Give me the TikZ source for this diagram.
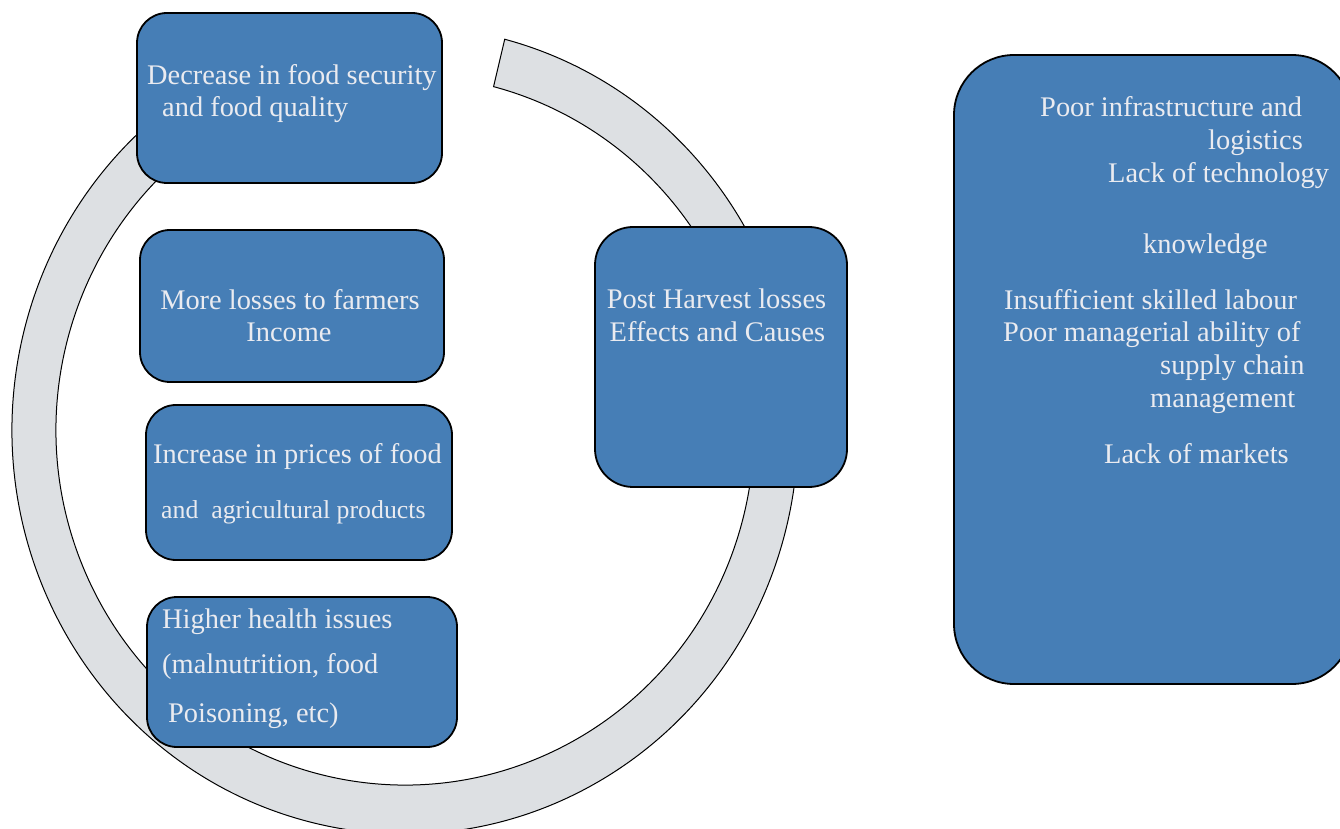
\documentclass[tikz,border=0pt]{standalone}
\usepackage{fontspec}
\setmainfont{Liberation Serif}
\usetikzlibrary{positioning,calc}
\definecolor{boxblue}{RGB}{70,126,182}
\definecolor{ringgray}{RGB}{221,224,227}
\definecolor{paleblue}{RGB}{234,235,240}
\tikzset{
  effectbox/.style={draw=black, line width=1.8pt, fill=boxblue, rounded corners=30pt, inner sep=0pt},
  txt/.style={text=paleblue, inner sep=0pt, font=\fontsize{28.4}{32}\selectfont},
}

\begin{document}
\begin{tikzpicture}[x=1pt,y=1pt]
    \useasboundingbox (0,0) rectangle (1340,828);
    \coordinate (O) at (405,398);

    % the open ring behind the boxes (slightly taller than wide)
    \draw [fill=ringgray, line width=1pt] ($(O)+({393*cos(75.3)},{404*sin(75.3)})$) coordinate (ringA)
        arc [start angle=75.3, end angle=-245, x radius=393, y radius=404]
        -- ($(O)+({349*cos(-245)},{355*sin(-245)})$)
        arc [start angle=-245, end angle=75.3, x radius=349, y radius=355] -- cycle;

    % effects
    \node [effectbox, minimum width=305pt, minimum height=170pt] (decrease) at (289.5,730) {};
    \node [effectbox, minimum width=304pt, minimum height=152pt] (losses) at (292,522) {};
    \node [effectbox, minimum width=306pt, minimum height=155pt] (prices) at (299,345.5) {};
    \node [effectbox, minimum width=310pt, minimum height=150pt] (health) at (302,156) {};
    \node [effectbox, rounded corners=38pt, minimum width=252pt, minimum height=260pt] (post) at (721,471) {};
    % causes
    \node [effectbox, rounded corners=60pt, minimum width=398pt, minimum height=629pt] (causes) at (1153,458.5) {};

    \node [txt, anchor=base west] (decrease1) at (147,743) {Decrease in food security};
    \node [txt, anchor=base west] (decrease2) at (162,711) {and food quality};

    \node [txt, anchor=base] (losses1) at (290,518) {More losses to farmers};
    \node [txt, anchor=base] (losses2) at (289,486) {Income};

    \node [txt, anchor=base west] (prices1) at (153,365) {Increase in prices of food};
    \node [txt, anchor=base west, font=\fontsize{25.8}{30}\selectfont] (prices2) at (161,310) {and\ \ agricultural products};

    \node [txt, anchor=base west] (health1) at (162,200) {Higher health issues};
    \node [txt, anchor=base west] (health2) at (162,155) {(malnutrition, food};
    \node [txt, anchor=base west] (health3) at (168,106) {Poisoning, etc)};

    \node [txt, anchor=base] (post1) at (716.5,519) {Post Harvest losses};
    \node [txt, anchor=base] (post2) at (717.5,486) {Effects and Causes};

    \foreach \n / \x / \y / \line in
    {
      1/1040/711/Poor infrastructure and,
      2/1208/678/logistics,
      3/1108/645/Lack of technology,
      4/1143/574/knowledge,
      5/1004/518/Insufficient skilled labour,
      6/1003/486/Poor managerial ability of,
      7/1160/453/supply chain,
      8/1150/420/management,
      9/1104/364/Lack of markets
    }
    {
     \node [txt, anchor=base west] (cause\n) at (\x,\y) {\line};
    }

\end{tikzpicture}
\end{document}
